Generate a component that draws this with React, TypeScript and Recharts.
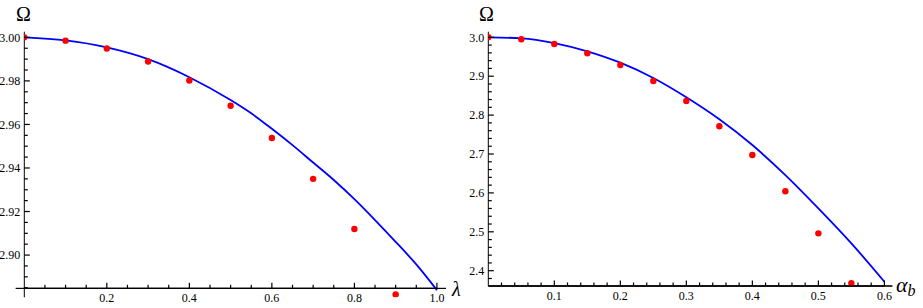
import { ComposedChart, Line, Scatter, XAxis, YAxis, ReferenceLine } from "recharts";

// left panel: Omega vs lambda
const lambdaPoints = [0, 0.1, 0.2, 0.3, 0.4, 0.5, 0.6, 0.7, 0.8, 0.9];
const omegaPointsL = [3.0, 2.9985, 2.9949, 2.9889, 2.9802, 2.9686, 2.9538, 2.935, 2.912, 2.8819];
const lambdaCurve = [0, 0.1, 0.2, 0.3, 0.4, 0.5, 0.55, 0.6, 0.65, 0.7, 0.75, 0.8, 0.85, 0.9, 0.95, 1.0];
const omegaCurveL = [3.0, 2.9986, 2.9954, 2.99, 2.9817, 2.9712, 2.9651, 2.958, 2.9505, 2.9425, 2.9345, 2.9257, 2.9161, 2.9061, 2.8957, 2.8839];
const xTicksL = [0.2, 0.4, 0.6, 0.8, 1.0];
const yTicksL = [2.9, 2.92, 2.94, 2.96, 2.98, 3.0];

// right panel: Omega vs alpha_b
const alphaPoints = [0, 0.05, 0.1, 0.15, 0.2, 0.25, 0.3, 0.35, 0.4, 0.45, 0.5, 0.55];
const omegaPointsR = [3.0, 2.9949, 2.9828, 2.9589, 2.9288, 2.8877, 2.8362, 2.7712, 2.6974, 2.6041, 2.4961, 2.3676];
const alphaCurve = [0, 0.05, 0.1, 0.15, 0.2, 0.25, 0.3, 0.35, 0.4, 0.45, 0.5, 0.55, 0.6];
const omegaCurveR = [3.0, 2.9974, 2.9853, 2.964, 2.9347, 2.8954, 2.8458, 2.7892, 2.723, 2.6459, 2.5603, 2.4703, 2.3717];
const xTicksR = [0.1, 0.2, 0.3, 0.4, 0.5, 0.6];
const yTicksR = [2.4, 2.5, 2.6, 2.7, 2.8, 2.9, 3.0];

const FONT = "'Liberation Serif', 'Times New Roman', serif";
const INK = "#000";

const zip = (xs: number[], ys: number[]) => xs.map((x, i) => ({ x, y: ys[i] }));

// minor + major tick positions
const steps = (from: number, to: number, step: number) => {
  const out: number[] = [];
  const n = Math.round((to - from) / step);
  for (let i = 0; i <= n; i++) out.push(Math.round((from + i * step) * 10000) / 10000);
  return out;
};

const isMajor = (v: number, majors: number[]) => majors.some(m => Math.abs(m - v) < 1e-6);

// axis drawn as thin filled bars (strokes came out too faint)
const hBar = (p: any) => (
  <rect x={Math.min(p.x1, p.x2)} y={p.y1 - 0.6} width={Math.abs(p.x2 - p.x1)} height={1.2} fill={INK} />
);

function XTick(props: any) {
  const { x, y, payload, majors, digits, axisOffset, gap } = props;
  const ay = y - axisOffset;
  const major = isMajor(payload.value, majors);
  const len = major ? 5.5 : 3.5;
  return (
    <g>
      <rect x={x - gap} y={ay - 0.6} width={gap} height={1.2} fill={INK} />
      <rect x={x - 0.6} y={ay - len} width={1.2} height={len} fill={INK} />
      {major && (
        <text x={x} y={ay + 9.5} dy="0.35em" textAnchor="middle" fontFamily={FONT} fontSize={12} fill="#000">
          {payload.value.toFixed(digits)}
        </text>
      )}
    </g>
  );
}

function YTick(props: any) {
  const { x, y, payload, majors, digits } = props;
  const major = isMajor(payload.value, majors);
  const len = major ? 5.5 : 3.5;
  return (
    <g>
      <rect x={x} y={y - 0.6} width={len} height={1.2} fill={INK} />
      {major && (
        <text x={x - 4} y={y} dy="0.35em" textAnchor="end" fontFamily={FONT} fontSize={12} fill="#000">
          {payload.value.toFixed(digits)}
        </text>
      )}
    </g>
  );
}

const dot = (p: any) => <circle cx={p.cx} cy={p.cy} r={3.2} fill="#ff0000" />;

function LeftPanel() {
  const origin = 2.8847;
  return (
    <ComposedChart width={460} height={308} margin={{ top: 31.7, right: 14, bottom: 9.7, left: 0.3 }}>
      <XAxis
        type="number"
        dataKey="x"
        domain={[0, 1.022]}
        allowDataOverflow
        ticks={steps(0.05, 1.0, 0.05)}
        interval={0}
        height={1}
        axisLine={false}
        tickLine={false}
        tickSize={0}
        tickMargin={0}
        tick={(p: any) => <XTick {...p} majors={xTicksL} digits={1} axisOffset={9} gap={20.63} />}
      />
      <YAxis
        type="number"
        dataKey="y"
        domain={[2.8806, 3.0026]}
        allowDataOverflow
        ticks={steps(2.885, 3.0, 0.005)}
        interval={0}
        width={24}
        axisLine={{ stroke: INK }}
        tickLine={false}
        tickSize={0}
        tickMargin={0}
        tick={(p: any) => <YTick {...p} majors={yTicksL} digits={2} />}
      />
      <ReferenceLine
        segment={[{ x: -0.021, y: origin }, { x: 1.022, y: origin }]}
        stroke={INK}
        strokeWidth={1.2}
        ifOverflow="visible"
        shape={hBar}
      />
      <Line
        data={zip(lambdaCurve, omegaCurveL)}
        dataKey="y"
        type="monotone"
        stroke="#0000ff"
        strokeWidth={1.8}
        dot={false}
        isAnimationActive={false}
      />
      <Scatter data={zip(lambdaPoints, omegaPointsL)} shape={dot} isAnimationActive={false} />
    </ComposedChart>
  );
}

function RightPanel() {
  const origin = 2.3607;
  return (
    <ComposedChart width={463} height={308} margin={{ top: 31.7, right: 30.7, bottom: 21, left: 0.3 }}>
      <XAxis
        type="number"
        dataKey="x"
        domain={[0, 0.612]}
        allowDataOverflow
        ticks={steps(0.02, 0.6, 0.02)}
        interval={0}
        height={1}
        axisLine={{ stroke: INK, strokeWidth: 1.2 }}
        tickLine={false}
        tickSize={0}
        tickMargin={0}
        tick={(p: any) => <XTick {...p} majors={xTicksR} digits={1} axisOffset={0} gap={13.2} />}
      />
      <YAxis
        type="number"
        dataKey="y"
        domain={[2.3607, 3.0144]}
        allowDataOverflow
        ticks={steps(2.38, 3.0, 0.02)}
        interval={0}
        width={28}
        axisLine={{ stroke: INK }}
        tickLine={false}
        tickSize={0}
        tickMargin={0}
        tick={(p: any) => <YTick {...p} majors={yTicksR} digits={1} />}
      />
      <ReferenceLine
        segment={[{ x: 0, y: origin }, { x: 0.612, y: origin }]}
        stroke={INK}
        strokeWidth={1.2}
        ifOverflow="visible"
        shape={hBar}
      />
      <Line
        data={zip(alphaCurve, omegaCurveR)}
        dataKey="y"
        type="monotone"
        stroke="#0000ff"
        strokeWidth={1.8}
        dot={false}
        isAnimationActive={false}
      />
      <Scatter data={zip(alphaPoints, omegaPointsR)} shape={dot} isAnimationActive={false} />
    </ComposedChart>
  );
}

export default function App() {
  return (
    <div style={{ position: "absolute", left: 0, top: 0, width: 923, height: 308, background: "#fff" }}>
      <div style={{ position: "absolute", left: 0, top: 0 }}>
        <LeftPanel />
      </div>
      <div style={{ position: "absolute", left: 460, top: 0 }}>
        <RightPanel />
      </div>
      <svg width={923} height={308} style={{ position: "absolute", left: 0, top: 0, pointerEvents: "none" }}>
        <text x={23.5} y={20.5} textAnchor="middle" fontFamily={FONT} fontSize={20} fill="#000">Ω</text>
        <text x={486.5} y={20.5} textAnchor="middle" fontFamily={FONT} fontSize={20} fill="#000">Ω</text>
        <text x={452} y={296} fontFamily={FONT} fontSize={20} fontStyle="italic" fill="#000">λ</text>
        <text x={896} y={291.5} fontFamily={FONT} fontSize={22} fontStyle="italic" fill="#000">
          α<tspan fontSize={16} dy={4}>b</tspan>
        </text>
      </svg>
    </div>
  );
}
